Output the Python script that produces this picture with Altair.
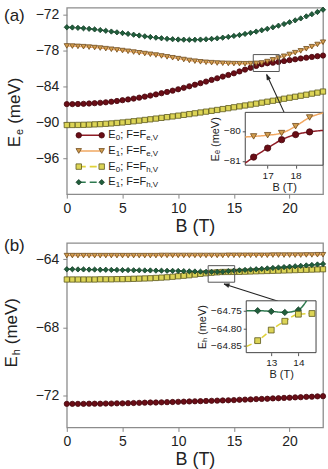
import altair as alt
import pandas as pd

FONT = "Liberation Sans"
TXT = "#222222"

# Magnetic field grid (T)
B = [0.0, 0.5, 1.0, 1.5, 2.0, 2.5, 3.0, 3.5, 4.0, 4.5,
     5.0, 5.5, 6.0, 6.5, 7.0, 7.5, 8.0, 8.5, 9.0, 9.5,
     10.0, 10.5, 11.0, 11.5, 12.0, 12.5, 13.0, 13.5, 14.0, 14.5,
     15.0, 15.5, 16.0, 16.5, 17.0, 17.5, 18.0, 18.5, 19.0, 19.5,
     20.0, 20.5, 21.0, 21.5, 22.0, 22.5, 23.0]

# Panel (a): electron levels E_e (meV)
ea_e0_fe = [-86.95, -86.95, -86.93, -86.90, -86.85, -86.80, -86.73, -86.65, -86.55, -86.43,
            -86.30, -86.17, -86.03, -85.87, -85.70, -85.52, -85.33, -85.13, -84.92, -84.70,
            -84.47, -84.22, -83.97, -83.71, -83.45, -83.18, -82.90, -82.63, -82.35, -82.08,
            -81.80, -81.49, -81.18, -80.87, -80.57, -80.29, -80.12, -80.03, -79.90, -79.75,
            -79.60, -79.46, -79.32, -79.19, -79.06, -78.94, -78.83]
ea_e1_fe = [-77.22, -77.25, -77.30, -77.35, -77.42, -77.50, -77.58, -77.68, -77.78, -77.89,
            -78.00, -78.12, -78.25, -78.37, -78.50, -78.62, -78.75, -78.90, -79.05, -79.20,
            -79.35, -79.50, -79.65, -79.77, -79.88, -79.96, -80.02, -80.08, -80.12, -80.15,
            -80.18, -80.19, -80.20, -80.18, -80.14, -80.07, -79.84, -79.55, -79.25, -78.95,
            -78.65, -78.35, -78.05, -77.70, -77.35, -76.98, -76.60]
ea_e0_fh = [-90.45, -90.44, -90.43, -90.41, -90.38, -90.34, -90.30, -90.24, -90.18, -90.10,
            -90.02, -89.92, -89.82, -89.71, -89.60, -89.49, -89.37, -89.25, -89.13, -89.01,
            -88.88, -88.75, -88.62, -88.49, -88.35, -88.21, -88.07, -87.93, -87.78, -87.63,
            -87.48, -87.33, -87.18, -87.03, -86.87, -86.71, -86.55, -86.39, -86.22, -86.05,
            -85.88, -85.72, -85.55, -85.38, -85.20, -85.03, -84.85]
ea_e1_fh = [-74.10, -74.14, -74.20, -74.27, -74.36, -74.46, -74.57, -74.69, -74.82, -74.95,
            -75.08, -75.21, -75.35, -75.48, -75.61, -75.73, -75.84, -75.94, -76.03, -76.10,
            -76.15, -76.18, -76.20, -76.19, -76.16, -76.11, -76.04, -75.95, -75.84, -75.71,
            -75.56, -75.40, -75.22, -75.03, -74.82, -74.60, -74.36, -74.11, -73.84, -73.56,
            -73.26, -72.95, -72.62, -72.28, -71.92, -71.55, -71.17]

# Panel (b): hole levels E_h (meV)
eb_e0_fe = [-72.49, -72.49, -72.49, -72.49, -72.48, -72.48, -72.48, -72.47, -72.47, -72.46,
            -72.46, -72.45, -72.44, -72.43, -72.42, -72.41, -72.41, -72.40, -72.39, -72.38,
            -72.37, -72.36, -72.35, -72.34, -72.33, -72.32, -72.31, -72.30, -72.29, -72.28,
            -72.27, -72.25, -72.24, -72.23, -72.21, -72.20, -72.19, -72.17, -72.16, -72.14,
            -72.13, -72.11, -72.10, -72.08, -72.07, -72.05, -72.04]
eb_e1_fe = [-63.80, -63.80, -63.80, -63.80, -63.80, -63.80, -63.80, -63.80, -63.80, -63.80,
            -63.80, -63.80, -63.80, -63.80, -63.80, -63.80, -63.80, -63.79, -63.79, -63.79,
            -63.79, -63.79, -63.79, -63.79, -63.79, -63.79, -63.79, -63.79, -63.79, -63.78,
            -63.78, -63.78, -63.78, -63.78, -63.78, -63.78, -63.78, -63.77, -63.77, -63.77,
            -63.77, -63.77, -63.77, -63.76, -63.76, -63.75, -63.75]
eb_e0_fh = [-65.20, -65.20, -65.20, -65.20, -65.20, -65.20, -65.19, -65.19, -65.19, -65.18,
            -65.18, -65.17, -65.16, -65.15, -65.14, -65.13, -65.11, -65.09, -65.07, -65.04,
            -65.01, -64.98, -64.95, -64.91, -64.87, -64.835, -64.805, -64.78, -64.76, -64.758,
            -64.755, -64.75, -64.74, -64.73, -64.72, -64.71, -64.70, -64.69, -64.68, -64.67,
            -64.66, -64.65, -64.64, -64.63, -64.62, -64.61, -64.60]
eb_e1_fh = [-64.60, -64.60, -64.61, -64.61, -64.62, -64.62, -64.63, -64.63, -64.64, -64.64,
            -64.65, -64.65, -64.66, -64.66, -64.67, -64.67, -64.68, -64.685, -64.69, -64.695,
            -64.70, -64.71, -64.72, -64.73, -64.74, -64.750, -64.752, -64.755, -64.748, -64.71,
            -64.68, -64.66, -64.64, -64.62, -64.60, -64.575, -64.55, -64.525, -64.50, -64.475,
            -64.45, -64.425, -64.40, -64.375, -64.35, -64.32, -64.29]

# Inset of panel (a): zoom on the E0/E1 anticrossing
ins_a_B = [16.5, 17.0, 17.5, 18.0, 18.5]
ins_a_e0 = [-80.87, -80.57, -80.29, -80.12, -80.03]
ins_a_e1 = [-80.18, -80.14, -80.07, -79.84, -79.55]
ins_a_curve_B = [16.2, 16.5, 17.0, 17.5, 18.0, 18.5, 18.98]
ins_a_curve_e0 = [-81.07, -80.87, -80.57, -80.29, -80.12, -80.03, -79.98]
ins_a_curve_e1 = [-80.20, -80.18, -80.14, -80.07, -79.84, -79.55, -79.40]

# Inset of panel (b)
ins_b_green_B = [12.5, 13.0, 13.5, 14.0]
ins_b_green = [-64.750, -64.752, -64.755, -64.748]
ins_b_yellow_B = [12.5, 13.0, 13.5, 14.0, 14.5]
ins_b_yellow = [-64.835, -64.805, -64.780, -64.760, -64.758]
ins_b_curve_green_B = [12.08, 12.5, 13.0, 13.5, 14.0, 14.3]
ins_b_curve_green = [-64.750, -64.750, -64.752, -64.755, -64.748, -64.722]
ins_b_curve_yellow_B = [12.08, 12.5, 13.0, 13.5, 14.0, 14.5, 14.65]
ins_b_curve_yellow = [-64.852, -64.835, -64.805, -64.780, -64.760, -64.758, -64.758]

# Series styles: (line colour, marker fill, marker stroke, shape, dash)
STYLE = {
    "e0_fe": dict(line="#8e1b25", fill="#6a0d16", stroke="#45080e", shape="circle", dash=[1, 0]),
    "e1_fe": dict(line="#f1a862", fill="#d29d4e", stroke="#6e4a1c", shape="triangle-down", dash=[1, 0]),
    "e0_fh": dict(line="#e0d23a", fill="#dcd456", stroke="#5c581c", shape="square", dash=[7, 4]),
    "e1_fh": dict(line="#2e7a50", fill="#215e3c", stroke="#143c26", shape="diamond", dash=[7, 4]),
}
LEGEND = [("e0_fe", "0", "e,V"), ("e1_fe", "1", "e,V"), ("e0_fh", "0", "h,V"), ("e1_fh", "1", "h,V")]

W, HA, HB = 257, 187, 185


def frame(x, y):
    return pd.DataFrame({"B": x, "E": y})


def curve(df, st, xe, ye, width=1.4, dash=None):
    return alt.Chart(df).mark_line(
        color=st["line"], strokeWidth=width, interpolate="monotone",
        strokeDash=st["dash"] if dash is None else dash,
    ).encode(x=xe, y=ye)


def markers(df, st, xe, ye, size):
    return alt.Chart(df).mark_point(
        shape=st["shape"], filled=True, fill=st["fill"], stroke=st["stroke"],
        strokeWidth=0.8, size=size, opacity=1,
    ).encode(x=xe, y=ye)


def label(text, x, y, size, angle=0, align="left", baseline="middle", color=TXT):
    kw = dict(font=FONT, fontSize=size, align=align, baseline=baseline, color=color)
    if angle:
        kw["angle"] = angle
    return alt.Chart(pd.DataFrame({"t": [text]})).mark_text(**kw).encode(
        text="t:N", x=alt.value(x), y=alt.value(y))


def legend_layers():
    out = []
    rows = [128, 143.7, 159.4, 175.1]
    one = pd.DataFrame({"k": [0]})
    for (key, n, sub), yr in zip(LEGEND, rows):
        st = STYLE[key]
        out.append(alt.Chart(one).mark_rule(color=st["line"], strokeWidth=1.6, strokeDash=st["dash"]).encode(
            x=alt.value(12), x2=alt.value(35), y=alt.value(yr)))
        for xp in (12, 35):
            out.append(alt.Chart(one).mark_point(
                shape=st["shape"], filled=True, fill=st["fill"], stroke=st["stroke"],
                strokeWidth=0.8, size=30, opacity=1).encode(x=alt.value(xp), y=alt.value(yr)))
        x0 = 41.7
        out.append(label("E", x0, yr, 11))
        out.append(label(n, x0 + 7.4, yr + 3, 8))
        out.append(label("; F=F", x0 + 11.9, yr, 11))
        out.append(label(sub, x0 + 37.9, yr + 3, 8))
    return out


def y_title(sub, x, y0):
    # rotated "E_sub (meV)" built from pieces, reading bottom to top from y0
    return [
        label("E", x, y0, 17, angle=270, baseline="alphabetic"),
        label(sub, x + 3.5, y0 - 12.3, 11, angle=270, baseline="alphabetic"),
        label("(meV)", x, y0 - 12.3 - 6.2 - 5.0, 17, angle=270, baseline="alphabetic"),
    ]


def main_axes(yvals, ydom):
    xe = alt.X("B:Q", scale=alt.Scale(domain=[0, 23], nice=False, zero=False),
               axis=alt.Axis(values=[0, 5, 10, 15, 20], title="B (T)", grid=False, domain=False,
                             tickSize=4, tickColor="#888888", labelFontSize=14, labelColor=TXT,
                             labelPadding=3, labelFlush=False, titleFontSize=18, titleColor=TXT,
                             titleFontWeight="normal", titlePadding=2))
    ye = alt.Y("E:Q", scale=alt.Scale(domain=ydom, nice=False, zero=False),
               axis=alt.Axis(values=yvals, title=None, grid=False, domain=False, tickSize=4,
                             tickColor="#888888", labelFontSize=14, labelColor=TXT, labelPadding=4))
    return xe, ye


def inset_axes(xdom, ydom, xrange, yrange, xvals, yvals, yfmt, ytitle, xoff, yoff):
    xe = alt.X("B:Q", scale=alt.Scale(domain=xdom, range=xrange, nice=False, zero=False),
               axis=alt.Axis(values=xvals, orient="bottom", offset=xoff, title="B (T)", grid=False,
                             domain=False, tickSize=3, tickColor="#555555", labelFontSize=10,
                             labelColor=TXT, labelPadding=2, labelFlush=False, titleFontSize=11,
                             titleColor=TXT, titleFontWeight="normal", titlePadding=1, zindex=1))
    ye = alt.Y("E:Q", scale=alt.Scale(domain=ydom, range=yrange, nice=False, zero=False),
               axis=alt.Axis(values=yvals, format=yfmt, orient="left", offset=yoff, title=ytitle,
                             grid=False, domain=False, tickSize=3, tickColor="#555555",
                             labelFontSize=10, labelColor=TXT, labelPadding=2, titleFontSize=11,
                             titleColor=TXT, titleFontWeight="normal", titlePadding=3, zindex=1))
    return xe, ye


def arrow(xe, ye, tail, head, angle):
    d = pd.DataFrame({"B": [tail[0]], "E": [tail[1]], "B2": [head[0]], "E2": [head[1]]})
    h = pd.DataFrame({"B": [head[0]], "E": [head[1]]})
    return [
        alt.Chart(d).mark_rule(color="#222222", strokeWidth=1.1).encode(
            x=xe, y=ye, x2="B2:Q", y2="E2:Q"),
        alt.Chart(h).mark_point(shape="M0,0L-0.42,1.1L0.42,1.1Z", filled=True, fill="#222222",
                                stroke="#222222", strokeWidth=0.5, size=90, angle=angle,
                                opacity=1).encode(x=xe, y=ye),
    ]


def box(xe, ye, b0, b1, e0, e1):
    d = pd.DataFrame({"B": [b0], "B2": [b1], "E": [e0], "E2": [e1]})
    return alt.Chart(d).mark_rect(filled=False, stroke="#555555", strokeWidth=1).encode(
        x=xe, x2="B2:Q", y=ye, y2="E2:Q")


def inset_frame(xe, ye, xdom, ydom):
    d = pd.DataFrame({"B": [xdom[0]], "B2": [xdom[1]], "E": [ydom[0]], "E2": [ydom[1]]})
    return alt.Chart(d).mark_rect(fill="white", stroke="#444444", strokeWidth=1).encode(
        x=xe, x2="B2:Q", y=ye, y2="E2:Q")


# ---------------- panel (a) ----------------
xa, ya = main_axes([-96, -90, -84, -78, -72], [-102, -70.83])
series_a = {"e0_fe": ea_e0_fe, "e1_fe": ea_e1_fe, "e0_fh": ea_e0_fh, "e1_fh": ea_e1_fh}
main_a = []
for k, v in series_a.items():
    main_a.append(curve(frame(B, v), STYLE[k], xa, ya))
for k, v in series_a.items():
    main_a.append(markers(frame(B, v), STYLE[k], xa, ya, 28))
main_a.append(box(xa, ya, 16.74, 19.07, -78.67, -81.5))
main_a += arrow(xa, ya, (19.51, -88.33), (17.94, -82.0), 335)
main_a += legend_layers()
main_a += y_title("e", -47, 140)
main_a.append(label("(a)", -63, 8, 17))
group_a = alt.layer(*main_a)

ia_xdom, ia_ydom = [16.2, 18.98], [-81.14, -79.38]
xia, yia = inset_axes(ia_xdom, ia_ydom, [179, 257], [158, 105], [17, 18], [-81, -80], "d",
                      "E\u2091 (meV)", -29, -179)
inset_a = [inset_frame(xia, yia, ia_xdom, ia_ydom),
           curve(frame(ins_a_curve_B, ins_a_curve_e0), STYLE["e0_fe"], xia, yia, 1.5),
           curve(frame(ins_a_curve_B, ins_a_curve_e1), STYLE["e1_fe"], xia, yia, 1.5),
           markers(frame(ins_a_B, ins_a_e0), STYLE["e0_fe"], xia, yia, 40),
           markers(frame(ins_a_B, ins_a_e1), STYLE["e1_fe"], xia, yia, 40)]
group_ia = alt.layer(*inset_a)

panel_a = alt.layer(group_a, group_ia).resolve_scale(x="independent", y="independent").properties(
    width=W, height=HA)

# ---------------- panel (b) ----------------
xb, yb = main_axes([-72, -68, -64], [-73.87, -63.06])
series_b = {"e0_fe": eb_e0_fe, "e1_fe": eb_e1_fe, "e0_fh": eb_e0_fh, "e1_fh": eb_e1_fh}
main_b = []
for k, v in series_b.items():
    main_b.append(curve(frame(B, v), STYLE[k], xb, yb))
for k, v in series_b.items():
    main_b.append(markers(frame(B, v), STYLE[k], xb, yb, 28))
main_b.append(box(xb, yb, 12.69, 15.07, -64.39, -65.36))
main_b += arrow(xb, yb, (18.97, -66.48), (14.11, -65.46), 288)
main_b += y_title("h", -50, 125)
main_b.append(label("(b)", -63, 3, 17))
group_b = alt.layer(*main_b)

ib_xdom, ib_ydom = [12.08, 14.65], [-64.869, -64.722]
xib, yib = inset_axes(ib_xdom, ib_ydom, [180, 250], [110, 58], [13, 14], [-64.85, -64.80, -64.75],
                      ".2f", "E\u2095 (meV)", -75, -180)
inset_b = [inset_frame(xib, yib, ib_xdom, ib_ydom),
           curve(frame(ins_b_curve_green_B, ins_b_curve_green), STYLE["e1_fh"], xib, yib, 1.5, [1, 0]),
           curve(frame(ins_b_curve_yellow_B, ins_b_curve_yellow), STYLE["e0_fh"], xib, yib, 1.5, [6, 3]),
           markers(frame(ins_b_green_B, ins_b_green), STYLE["e1_fh"], xib, yib, 40),
           markers(frame(ins_b_yellow_B, ins_b_yellow), STYLE["e0_fh"], xib, yib, 34)]
group_ib = alt.layer(*inset_b)

panel_b = alt.layer(group_b, group_ib).resolve_scale(x="independent", y="independent").properties(
    width=W, height=HB)

chart = alt.vconcat(panel_a, panel_b, spacing=49, bounds="flush").properties(
    padding={"left": 2, "top": 4, "right": 0, "bottom": 0},
    background="white",
).configure(font=FONT).configure_view(stroke="#8c8c8c", strokeWidth=1.3).configure_axis(
    labelFont=FONT, titleFont=FONT)

chart.save("out.html", embed_options={"renderer": "svg", "actions": False})
